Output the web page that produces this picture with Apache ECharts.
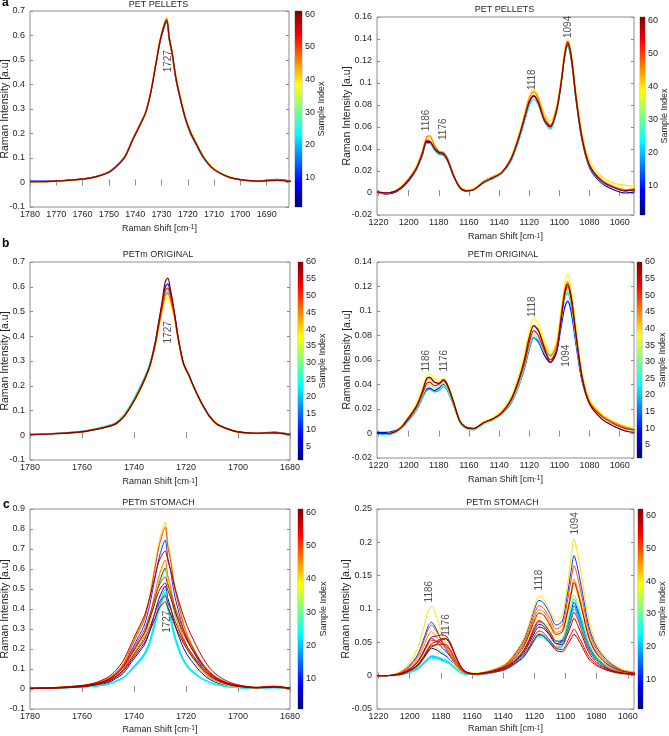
<!DOCTYPE html>
<html><head><meta charset="utf-8">
<script src="https://cdn.jsdelivr.net/npm/echarts@6/dist/echarts.min.js"></script>
<style>html,body{margin:0;padding:0;background:#fff}#c{width:669px;height:736px}</style>
</head><body><div id="c"></div>
<script>
// ================= DATA =================
// wavenumber grids (cm^-1)
const xLeft = [1780,1770,1760,1755,1750,1747,1744,1741,1738,1736,1734,1732,1730.5,1729,1728,1727,1726,1724.5,1723,1721,1719,1717,1714,1711,1708,1704,1700,1693,1686,1680];
const xRight = [1221,1215,1210,1205,1200,1195,1191,1188,1186,1183,1180,1177,1174,1170,1166,1162,1157,1150,1144,1138,1132,1127,1123,1120,1117,1114,1110,1106,1102,1099,1096.5,1094.5,1092,1089,1085,1080,1072,1064,1056,1050];

// tick labels
const ticksXLeftA = [1780,1770,1760,1750,1740,1730,1720,1710,1700,1690];
const ticksXLeft = [1780,1760,1740,1720,1700,1680];
const ticksXRight = [1220,1200,1180,1160,1140,1120,1100,1080,1060];
const cbTicks10 = [10,20,30,40,50,60];
const cbTicks5 = [5,10,15,20,25,30,35,40,45,50,55,60];

// ---- (a) PET PELLETS, 1727 band ----
const aLeftSamples = [6,22,40,46,50,60];
const aLeftCurves = [
 [.006,.007,.015,.024,.044,.07,.106,.176,.242,.288,.372,.49,.575,.632,.655,.58,.528,.42,.348,.262,.2,.158,.1,.062,.04,.02,.011,.006,.013,.004],
 [.004,.006,.013,.022,.04,.065,.1,.17,.236,.283,.37,.49,.578,.635,.652,.578,.522,.418,.345,.26,.2,.157,.098,.06,.038,.02,.011,.006,.011,.003],
 [.003,.005,.013,.022,.042,.068,.105,.175,.242,.29,.378,.5,.588,.65,.675,.598,.542,.435,.36,.272,.212,.168,.107,.066,.042,.022,.012,.006,.009,.003],
 [.003,.006,.014,.023,.042,.067,.104,.174,.24,.288,.375,.496,.584,.644,.67,.59,.536,.43,.355,.268,.208,.165,.104,.064,.041,.021,.012,.006,.01,.003],
 [.003,.006,.014,.023,.042,.067,.103,.173,.239,.286,.372,.492,.579,.638,.665,.585,.532,.426,.352,.266,.206,.163,.103,.063,.04,.021,.012,.006,.01,.003],
 [.003,.006,.014,.023,.042,.067,.103,.172,.238,.285,.37,.49,.58,.64,.662,.588,.532,.426,.35,.265,.205,.162,.102,.062,.04,.021,.012,.006,.009,.003]
];
const aLeftPeaks = [[1727.4,0.495,'1727']];

// ---- (a) PET PELLETS, 1050-1220 region ----
const aRightSamples = [6,22,40,46,52,60];
const aRightCurves = [
 [.000,-.001,.000,.004,.011,.021,.034,.046,.046,.040,.036,.035,.029,.015,.005,.002,.003,.011,.015,.019,.031,.049,.068,.082,.088,.082,.066,.06,.074,.098,.124,.134,.12,.085,.048,.023,.009,.003,.000,.001],
 [.000,.000,.001,.005,.012,.021,.034,.045,.045,.039,.035,.034,.028,.014,.004,.002,.003,.009,.013,.018,.029,.047,.065,.079,.085,.080,.065,.058,.072,.097,.124,.133,.12,.085,.049,.024,.010,.005,.002,.003],
 [.000,.000,.001,.006,.013,.024,.038,.05,.05,.043,.038,.037,.031,.016,.006,.003,.004,.011,.015,.02,.033,.053,.073,.088,.094,.088,.072,.065,.079,.103,.130,.14,.127,.092,.055,.029,.015,.009,.007,.006],
 [.001,.000,.001,.005,.013,.023,.037,.051,.052,.044,.038,.037,.031,.016,.005,.002,.003,.010,.014,.019,.032,.051,.071,.086,.092,.086,.069,.062,.076,.1,.127,.138,.124,.089,.051,.026,.012,.006,.003,.004],
 [.001,.000,.001,.005,.012,.022,.036,.048,.047,.041,.037,.036,.030,.015,.005,.002,.003,.010,.014,.019,.031,.050,.069,.083,.089,.083,.067,.061,.075,.099,.125,.136,.122,.087,.050,.025,.011,.005,.002,.003],
 [.001,.000,.001,.005,.012,.022,.035,.047,.047,.041,.037,.036,.029,.015,.005,.002,.003,.010,.014,.019,.031,.050,.069,.083,.088,.082,.066,.060,.074,.098,.125,.137,.123,.087,.050,.025,.011,.005,.002,.003]
];
const aRightPeaks = [[1188,0.066,'1186'],[1177,0.058,'1176'],[1118.3,0.103,'1118'],[1094,0.151,'1094']];

// ---- (b) PETm ORIGINAL, 1727 band ----
const bLeftSamples = [8,22,30,38,46,52,60];
const bLeftCurves = [
 [.004,.008,.016,.025,.037,.049,.077,.125,.183,.228,.282,.366,.452,.54,.598,.612,.575,.495,.393,.29,.244,.194,.128,.075,.043,.025,.013,.008,.013,.004],
 [.003,.007,.016,.026,.04,.052,.082,.13,.19,.234,.287,.368,.45,.528,.572,.58,.552,.482,.386,.288,.242,.192,.127,.075,.042,.024,.013,.007,.012,.003],
 [.003,.007,.015,.025,.038,.049,.078,.126,.184,.228,.28,.362,.446,.528,.577,.588,.558,.486,.388,.289,.243,.193,.128,.076,.043,.025,.013,.008,.011,.003],
 [.002,.006,.014,.023,.035,.046,.073,.118,.175,.218,.27,.35,.43,.508,.548,.556,.535,.474,.385,.288,.244,.196,.132,.08,.046,.026,.014,.008,.01,.003],
 [.002,.006,.014,.023,.035,.046,.074,.12,.178,.222,.274,.355,.438,.518,.563,.573,.547,.48,.388,.289,.244,.195,.13,.078,.045,.026,.014,.008,.01,.003],
 [.002,.007,.015,.024,.036,.047,.075,.122,.18,.225,.277,.36,.445,.53,.585,.595,.565,.49,.39,.29,.245,.195,.13,.077,.044,.026,.014,.008,.011,.003],
 [.002,.006,.014,.023,.035,.046,.073,.12,.178,.224,.278,.366,.458,.552,.62,.635,.59,.5,.395,.292,.246,.196,.13,.077,.044,.026,.014,.008,.01,.003]
];
const bLeftPeaks = [[1727.0,0.416,'1727']];

// ---- (b) PETm ORIGINAL, 1050-1220 region ----
const bRightSamples = [8,20,30,38,45,52,60];
const bRightCurves = [
 [.001,.001,.002,.005,.011,.019,.029,.036,.037,.035,.037,.040,.036,.023,.010,.005,.004,.009,.012,.016,.025,.039,.054,.069,.078,.075,.064,.058,.066,.086,.103,.108,.098,.073,.043,.025,.015,.009,.005,.004],
 [.000,-.001,.000,.004,.011,.019,.029,.035,.036,.034,.035,.038,.034,.022,.009,.004,.003,.008,.011,.016,.025,.039,.055,.07,.078,.076,.066,.064,.072,.092,.11,.115,.103,.076,.045,.026,.015,.008,.004,.003],
 [.000,.000,.001,.005,.012,.02,.031,.039,.040,.037,.038,.041,.036,.023,.009,.004,.003,.008,.011,.016,.026,.040,.056,.071,.080,.078,.067,.061,.069,.09,.11,.117,.106,.078,.045,.025,.014,.008,.004,.003],
 [.000,.000,.001,.006,.014,.024,.037,.047,.049,.045,.043,.045,.04,.026,.011,.005,.004,.01,.013,.019,.03,.047,.066,.084,.094,.09,.076,.066,.075,.1,.122,.13,.117,.087,.05,.028,.016,.01,.006,.004],
 [.000,.000,.001,.005,.013,.022,.034,.044,.045,.042,.041,.044,.039,.025,.010,.005,.004,.009,.012,.018,.028,.044,.062,.079,.088,.085,.072,.063,.072,.096,.117,.124,.112,.083,.048,.026,.015,.009,.005,.003],
 [.000,.000,.001,.005,.012,.021,.032,.041,.042,.039,.040,.043,.038,.024,.010,.005,.004,.009,.012,.017,.027,.042,.058,.074,.084,.080,.068,.060,.068,.092,.113,.12,.108,.08,.046,.025,.014,.008,.004,.003],
 [.000,.000,.001,.005,.013,.022,.034,.045,.046,.042,.041,.044,.039,.025,.010,.005,.004,.009,.012,.017,.028,.044,.061,.078,.088,.084,.070,.058,.066,.092,.115,.122,.11,.081,.046,.024,.012,.006,.002,.001]
];
const bRightPeaks = [[1188,0.0594,'1186'],[1176.3,0.0594,'1176'],[1117.9,0.1035,'1118'],[1095.6,0.0635,'1094']];

// ---- (c) PETm STOMACH, 1727 band ----
const cSamples = [41,50,12,58,47,38,9,30,52,60,6,22,21,19,24,55,59];
const cLeftCurves = [
 [.004,.008,.018,.029,.053,.084,.129,.217,.301,.359,.468,.618,.726,.802,.835,.735,.668,.534,.443,.334,.259,.205,.129,.079,.05,.027,.015,.008,.013,.004],
 [.004,.007,.017,.028,.051,.081,.126,.211,.292,.348,.454,.599,.705,.778,.81,.713,.648,.518,.429,.324,.251,.198,.126,.077,.049,.026,.015,.007,.012,.004],
 [.004,.007,.016,.026,.047,.075,.115,.194,.268,.32,.417,.551,.648,.715,.745,.656,.596,.477,.395,.298,.231,.183,.115,.071,.045,.024,.013,.007,.011,.004],
 [.004,.008,.018,.031,.059,.093,.145,.228,.311,.366,.455,.559,.635,.676,.69,.642,.6,.518,.449,.366,.297,.242,.166,.107,.069,.038,.021,.009,.014,.005],
 [.003,.006,.014,.023,.041,.065,.1,.168,.232,.277,.361,.477,.561,.619,.645,.568,.516,.413,.342,.258,.2,.158,.1,.061,.039,.021,.012,.006,.01,.003],
 [.003,.006,.013,.022,.039,.062,.096,.161,.223,.267,.347,.459,.539,.595,.62,.546,.496,.397,.329,.248,.192,.152,.096,.059,.037,.02,.011,.006,.009,.003],
 [.003,.005,.013,.021,.038,.061,.094,.157,.218,.26,.339,.448,.526,.581,.605,.532,.484,.387,.321,.242,.188,.148,.094,.057,.036,.019,.011,.005,.009,.003],
 [.003,.005,.012,.021,.037,.059,.091,.153,.212,.254,.33,.437,.513,.566,.59,.519,.472,.378,.313,.236,.183,.145,.091,.056,.035,.019,.011,.005,.009,.003],
 [.003,.006,.015,.025,.048,.076,.118,.185,.252,.297,.37,.454,.515,.549,.56,.521,.487,.42,.364,.297,.241,.196,.134,.087,.056,.031,.017,.007,.011,.004],
 [.003,.006,.014,.024,.045,.072,.111,.175,.239,.281,.35,.429,.488,.519,.53,.493,.461,.398,.345,.281,.228,.186,.127,.082,.053,.029,.016,.007,.011,.004],
 [.003,.005,.011,.018,.032,.052,.08,.134,.185,.221,.288,.381,.448,.494,.515,.453,.412,.33,.273,.206,.16,.126,.08,.049,.031,.016,.009,.005,.008,.003],
 [.003,.005,.01,.015,.025,.04,.06,.1,.145,.18,.24,.34,.42,.475,.5,.43,.375,.28,.215,.15,.11,.085,.055,.035,.023,.013,.007,.004,.007,.003],
 [.002,.004,.01,.015,.024,.039,.058,.097,.141,.175,.233,.33,.407,.461,.485,.417,.364,.272,.209,.146,.107,.082,.053,.034,.022,.012,.007,.004,.007,.002],
 [.002,.004,.01,.014,.024,.038,.057,.095,.138,.171,.228,.323,.399,.451,.475,.409,.356,.266,.204,.143,.105,.081,.052,.033,.021,.012,.007,.004,.007,.002],
 [.002,.004,.009,.014,.023,.037,.055,.092,.133,.166,.221,.313,.386,.437,.46,.396,.345,.258,.198,.138,.101,.078,.051,.032,.021,.012,.006,.004,.006,.002],
 [.003,.005,.012,.021,.04,.063,.098,.153,.209,.246,.307,.377,.428,.456,.465,.432,.405,.349,.302,.246,.2,.163,.112,.072,.047,.026,.014,.006,.009,.003],
 [.003,.005,.011,.02,.037,.059,.091,.144,.196,.231,.287,.352,.4,.426,.435,.405,.378,.326,.283,.231,.187,.152,.104,.067,.044,.024,.013,.006,.009,.003]
];
const cLeftPeaks = [[1727.4,0.3365,'1727']];

// ---- (c) PETm STOMACH, 1050-1220 region ----
const cRightCurves = [
 [0,0,.002,.008,.020,.041,.072,.098,.104,.090,.067,.050,.036,.018,.007,.004,.004,.007,.011,.019,.036,.055,.081,.104,.119,.115,.098,.081,.091,.132,.175,.205,.181,.140,.084,.048,.023,.010,.005,.004],
 [0,0,.001,.006,.014,.029,.051,.070,.076,.067,.055,.044,.033,.017,.006,.003,.003,.006,.010,.017,.032,.048,.071,.092,.105,.101,.086,.070,.076,.108,.142,.165,.146,.113,.068,.039,.018,.008,.004,.003],
 [0,0,.002,.006,.016,.031,.055,.075,.080,.070,.054,.041,.030,.015,.006,.003,.003,.006,.011,.018,.034,.052,.077,.099,.113,.109,.093,.076,.082,.118,.155,.180,.159,.123,.074,.043,.020,.009,.005,.003],
 [0,0,.001,.004,.010,.020,.036,.051,.058,.059,.061,.060,.050,.027,.010,.004,.003,.005,.009,.015,.028,.043,.064,.082,.094,.091,.076,.062,.066,.092,.120,.140,.123,.095,.057,.033,.015,.007,.004,.003],
 [0,0,.001,.005,.012,.025,.044,.061,.066,.059,.049,.041,.031,.016,.006,.003,.003,.006,.010,.016,.030,.046,.067,.087,.099,.096,.080,.065,.069,.096,.125,.145,.128,.099,.060,.035,.016,.007,.004,.003],
 [0,0,.001,.003,.009,.018,.031,.043,.047,.043,.038,.032,.025,.013,.005,.003,.003,.005,.009,.014,.027,.041,.060,.078,.089,.086,.072,.059,.063,.089,.116,.135,.119,.092,.056,.032,.015,.007,.003,.002],
 [0,0,.001,.004,.010,.021,.037,.051,.056,.051,.044,.037,.029,.015,.006,.003,.003,.005,.008,.013,.024,.037,.055,.071,.081,.078,.065,.052,.053,.071,.091,.105,.092,.071,.043,.025,.012,.005,.003,.002],
 [0,0,.001,.003,.008,.017,.030,.041,.045,.042,.036,.032,.025,.013,.005,.003,.002,.005,.008,.013,.024,.036,.053,.069,.078,.076,.064,.052,.056,.079,.104,.121,.107,.082,.050,.029,.013,.006,.003,.002],
 [0,0,.001,.004,.010,.020,.035,.048,.053,.052,.049,.045,.037,.020,.007,.003,.003,.005,.008,.014,.025,.038,.056,.073,.083,.079,.066,.052,.051,.066,.083,.095,.084,.064,.039,.023,.010,.005,.002,.002],
 [0,0,.001,.003,.008,.016,.029,.041,.048,.051,.055,.056,.048,.026,.010,.004,.003,.005,.008,.013,.023,.036,.053,.068,.077,.074,.062,.048,.047,.060,.075,.086,.075,.058,.035,.020,.009,.004,.002,.002],
 [0,0,.001,.003,.008,.015,.027,.037,.041,.039,.034,.030,.024,.013,.005,.002,.002,.004,.007,.012,.022,.034,.050,.064,.073,.071,.060,.048,.052,.073,.095,.110,.097,.075,.045,.026,.012,.006,.003,.002],
 [0,0,.001,.002,.006,.011,.020,.027,.030,.029,.026,.024,.019,.010,.004,.002,.002,.004,.006,.010,.019,.029,.043,.055,.063,.061,.053,.044,.050,.074,.099,.115,.102,.079,.048,.028,.013,.006,.003,.002],
 [0,0,.001,.002,.005,.011,.019,.026,.029,.028,.025,.022,.018,.010,.004,.002,.002,.003,.006,.010,.018,.028,.041,.053,.061,.059,.050,.042,.047,.068,.090,.105,.093,.072,.043,.025,.012,.005,.003,.002],
 [0,0,0,.002,.005,.010,.018,.025,.028,.026,.024,.021,.017,.009,.003,.002,.002,.003,.006,.010,.018,.028,.041,.053,.061,.059,.050,.041,.045,.065,.086,.100,.089,.069,.041,.024,.011,.005,.003,.002],
 [0,0,0,.002,.005,.009,.017,.023,.026,.025,.023,.020,.017,.009,.003,.002,.002,.003,.006,.010,.018,.027,.040,.052,.059,.057,.048,.040,.043,.062,.081,.095,.084,.065,.039,.023,.010,.005,.002,.002],
 [0,0,.001,.003,.008,.016,.028,.040,.045,.046,.047,.047,.039,.021,.008,.003,.002,.004,.007,.011,.020,.031,.045,.059,.067,.064,.053,.041,.039,.050,.062,.070,.061,.047,.029,.017,.008,.004,.002,.001],
 [0,0,.001,.002,.007,.014,.026,.037,.043,.047,.053,.055,.047,.026,.009,.004,.002,.004,.006,.010,.019,.028,.042,.054,.062,.059,.049,.038,.036,.045,.055,.062,.055,.042,.025,.015,.007,.003,.002,.001]
];
const cRightPeaks = [[1187.6,0.126,'1186'],[1176.3,0.076,'1176'],[1116.8,0.1435,'1118'],[1093.9,0.2285,'1094']];

// ================= STYLE / LAYOUT =================
const FONT = '"Liberation Sans", Arial, Helvetica, sans-serif';
const TXT = '#262626';
const AX = '#8c8c8c';

function jet(s, lo, hi) {
  const t = Math.min(1, Math.max(0, (s - lo) / (hi - lo)));
  const f = v => Math.round(255 * Math.min(1, Math.max(0, v)));
  return 'rgb(' + f(1.5 - Math.abs(4*t - 3)) + ',' + f(1.5 - Math.abs(4*t - 2)) + ',' + f(1.5 - Math.abs(4*t - 1)) + ')';
}
const jetStops = [0, 0.125, 0.375, 0.625, 0.875, 1].map(o => ({offset: o, color: jet(o, 0, 1)}));

const panels = [
 {title:'PET PELLETS', tpos:[158.5,0], grid:[30,11,259,196], xr:[1681.5,1780], xt:ticksXLeftA, yr:[-0.1,0.7,0.1],
  xs:xLeft, samples:aLeftSamples, curves:aLeftCurves, peaks:aLeftPeaks, yGap:19, xGap:17, lw:1.2,
  cb:{box:[295,11,7,196], range:[1,61], ticks:cbTicks10, gap:15}},
 {title:'PET PELLETS', tpos:[504.5,5], grid:[377,17,257,198], xr:[1050.5,1221], xt:ticksXRight, yr:[-0.02,0.16,0.02],
  xs:xRight, samples:aRightSamples, curves:aRightCurves, peaks:aRightPeaks, yGap:24.5, xGap:17.5, lw:1.2,
  cb:{box:[640,17,5,198], range:[1,61], ticks:cbTicks10, gap:15}},
 {title:'PETm ORIGINAL', tpos:[158,250], grid:[30,262,260,198], xr:[1680,1780], xt:ticksXLeft, yr:[-0.1,0.7,0.1],
  xs:xLeft, samples:bLeftSamples, curves:bLeftCurves, peaks:bLeftPeaks, yGap:19, xGap:17.5, lw:1.2,
  cb:{box:[298,262,5,198], range:[1,60], ticks:cbTicks5, gap:15}},
 {title:'PETm ORIGINAL', tpos:[503,250], grid:[377,262,257,196], xr:[1050.5,1221], xt:ticksXRight, yr:[-0.02,0.14,0.02],
  xs:xRight, samples:bRightSamples, curves:bRightCurves, peaks:bRightPeaks, yGap:24.5, xGap:17, lw:1.2,
  cb:{box:[637,262,5,196], range:[1,60], ticks:cbTicks5, gap:16}},
 {title:'PETm STOMACH', tpos:[158.5,498.5], grid:[30,509,260,200], xr:[1680,1780], xt:ticksXLeft, yr:[-0.1,0.9,0.1],
  xs:xLeft, samples:cSamples, curves:cLeftCurves, peaks:cLeftPeaks, yGap:19, xGap:16, lw:1,
  cb:{box:[298,509,5,200], range:[1,61], ticks:cbTicks10, gap:16}},
 {title:'PETm STOMACH', tpos:[502.5,498], grid:[377,509,257,200], xr:[1056,1221], xt:ticksXRight, yr:[-0.05,0.25,0.05],
  xs:xRight, samples:cSamples, curves:cRightCurves, peaks:cRightPeaks, yGap:25, xGap:15.5, lw:1,
  cb:{box:[638,509,5,200], range:[1,62], ticks:cbTicks10, gap:15}}
];
const letters = [['a',2,-3],['b',2,238],['c',3,499]];

const txt = (size, extra) => Object.assign({fontSize:size, color:TXT, fontFamily:FONT}, extra || {});
const plain = v => String(v);
const option = {animation:false, backgroundColor:'#fff', title:[], grid:[], xAxis:[], yAxis:[], series:[]};

panels.forEach((p, k) => {
  const gi = option.grid.length;
  option.grid.push({left:p.grid[0], top:p.grid[1], width:p.grid[2], height:p.grid[3], show:true, borderColor:AX, borderWidth:1,
    containLabel:false, outerBoundsMode:'none'});
  const xb = option.xAxis.length;
  option.xAxis.push({gridIndex:gi, type:'value', min:p.xr[0], max:p.xr[1], inverse:true, position:'bottom',
    axisLine:{show:false}, splitLine:{show:false},
    axisTick:{show:true, inside:true, length:3, lineStyle:{color:AX}, customValues:p.xt},
    axisLabel:Object.assign(txt(9), {show:true, customValues:p.xt, margin:3, formatter:plain}),
    name:'Raman Shift [cm{sup|-1}]', nameLocation:'middle', nameGap:p.xGap, nameMoveOverlap:false,
    nameTextStyle:txt(9, {rich:{sup:txt(6.5, {verticalAlign:'top'})}})});
  option.xAxis.push({gridIndex:gi, type:'value', min:p.xr[0], max:p.xr[1], inverse:true, position:'top',
    axisLine:{show:false}, splitLine:{show:false}, axisLabel:{show:false},
    axisTick:{show:true, inside:true, length:3, lineStyle:{color:AX}, customValues:p.xt}});
  const yl = option.yAxis.length;
  option.yAxis.push({gridIndex:gi, type:'value', min:p.yr[0], max:p.yr[1], interval:p.yr[2], position:'left',
    axisLine:{show:false}, splitLine:{show:false},
    axisTick:{show:true, inside:true, length:3, lineStyle:{color:AX}},
    axisLabel:Object.assign(txt(9), {margin:5}),
    name:'Raman Intensity [a.u]', nameLocation:'middle', nameGap:p.yGap, nameMoveOverlap:false, nameTextStyle:txt(10.5)});
  option.yAxis.push({gridIndex:gi, type:'value', min:p.yr[0], max:p.yr[1], interval:p.yr[2], position:'right',
    axisLine:{show:false}, splitLine:{show:false}, axisLabel:{show:false},
    axisTick:{show:true, inside:true, length:3, lineStyle:{color:AX}}});

  // colour bar
  const cg = option.grid.length;
  option.grid.push({left:p.cb.box[0], top:p.cb.box[1], width:p.cb.box[2], height:p.cb.box[3], show:true, borderColor:'#6a6a6a', borderWidth:0.5,
    containLabel:false, outerBoundsMode:'none'});
  const cx = option.xAxis.length;
  option.xAxis.push({gridIndex:cg, type:'category', data:['cb'], show:false});
  const cy = option.yAxis.length;
  option.yAxis.push({gridIndex:cg, type:'value', min:p.cb.range[0], max:p.cb.range[1], position:'right',
    axisLine:{show:false}, splitLine:{show:false},
    axisTick:{show:true, inside:true, length:2, lineStyle:{color:'#444'}, customValues:p.cb.ticks},
    axisLabel:Object.assign(txt(9), {customValues:p.cb.ticks, margin:3, formatter:plain}),
    name:'Sample Index', nameLocation:'middle', nameRotate:90, nameGap:p.cb.gap, nameMoveOverlap:false, nameTextStyle:txt(9)});
  option.series.push({type:'bar', xAxisIndex:cx, yAxisIndex:cy, stack:'cb'+k, data:[p.cb.range[0]], barWidth:'100%',
    itemStyle:{color:'rgba(0,0,0,0)'}, silent:true});
  option.series.push({type:'bar', xAxisIndex:cx, yAxisIndex:cy, stack:'cb'+k, data:[p.cb.range[1]-p.cb.range[0]], barWidth:'100%',
    itemStyle:{color:new echarts.graphic.LinearGradient(0,1,0,0,jetStops)}, silent:true});

  // spectra, plotted in sample order
  const order = p.samples.map((s,i)=>i).sort((a,b)=>p.samples[a]-p.samples[b]);
  order.forEach(i => {
    const col = jet(p.samples[i], p.cb.range[0], p.cb.range[1]);
    option.series.push({type:'line', xAxisIndex:xb, yAxisIndex:yl,
      data:p.xs.map((x,j)=>[x, p.curves[i][j]]),
      showSymbol:false, symbol:'none', smooth:0.3, clip:true, silent:true,
      lineStyle:{width:p.lw, color:col}, itemStyle:{color:col}});
  });
  // peak labels
  option.series.push({type:'scatter', xAxisIndex:xb, yAxisIndex:yl, symbolSize:1, silent:true, z:10,
    itemStyle:{color:'rgba(0,0,0,0)'},
    data:p.peaks.map(q=>({value:[q[0],q[1]], name:q[2]})),
    label:Object.assign(txt(10), {show:true, formatter:'{b}', rotate:90, position:'inside'})});

  option.title.push({text:p.title, left:p.tpos[0], top:p.tpos[1], textAlign:'center', padding:0,
    textStyle:txt(9, {fontWeight:'normal'})});
});
letters.forEach(l => option.title.push({text:l[0], left:l[1], top:l[2], padding:0,
  textStyle:{fontSize:12, fontWeight:'bold', color:'#000', fontFamily:FONT}}));

const chart = echarts.init(document.getElementById('c'), null, {renderer:'canvas'});
chart.setOption(option);
</script>
</body></html>
